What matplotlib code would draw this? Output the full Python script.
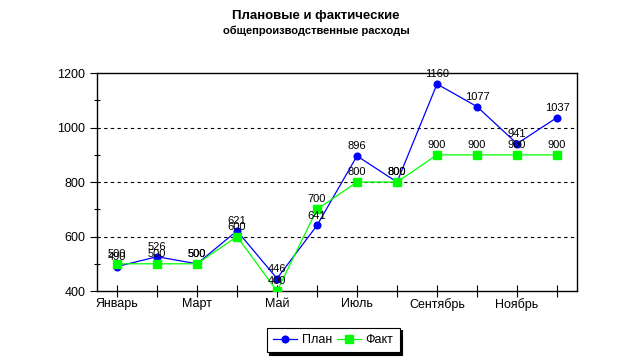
import numpy as np
import matplotlib
matplotlib.use("Agg")
import matplotlib.pyplot as plt
from matplotlib.ticker import MultipleLocator

plt.rcParams['font.family'] = ['Liberation Sans', 'DejaVu Sans']

## data
months = ["Январь", "Февраль", "Март", "Апрель", "Май", "Июнь",
          "Июль", "Август", "Сентябрь", "Октябрь", "Ноябрь", "Декабрь"]
plan = [490, 526, 500, 621, 446, 641, 896, 800, 1160, 1077, 941, 1037]
fact = [500, 500, 500, 600, 400, 700, 800, 800, 900, 900, 900, 900]

BLUE = "#0000ff"
GREEN = "#00ff00"

fig = plt.figure(figsize=(6.32, 3.62), dpi=100)
ax = fig.add_axes([0.1535, 0.196, 0.7595, 0.602])

x = np.arange(len(months))
ax.plot(x, plan, color=BLUE, linewidth=0.9, marker='o', markersize=4.8,
        markeredgecolor=BLUE, markerfacecolor=BLUE, label="План", zorder=3)
ax.plot(x, fact, color=GREEN, linewidth=0.9, marker='s', markersize=5.5,
        markeredgecolor=GREEN, markerfacecolor=GREEN, label="Факт", zorder=4)

# value labels above points
for xi, v in zip(x, plan):
    ax.annotate(str(v), (xi, v), xytext=(0, 3.5), textcoords='offset points',
                ha='center', va='bottom', fontsize=8, zorder=5)
for xi, v in zip(x, fact):
    ax.annotate(str(v), (xi, v), xytext=(0, 3.5), textcoords='offset points',
                ha='center', va='bottom', fontsize=8, zorder=5)

ax.set_xlim(-0.5, 11.5)
ax.set_ylim(400, 1200)
ax.set_xticks(x)
ax.set_xticklabels([m if i % 2 == 0 else "" for i, m in enumerate(months)], fontsize=9)
ax.yaxis.set_major_locator(MultipleLocator(200))
ax.yaxis.set_minor_locator(MultipleLocator(100))
ax.tick_params(axis='y', which='major', direction='out', length=5, labelsize=9, width=0.8)
ax.tick_params(axis='y', which='minor', direction='inout', length=5, width=0.8)
ax.tick_params(axis='x', which='major', direction='inout', length=8, labelsize=9, width=0.8, pad=1)

for y in (600, 800, 1000):
    ax.axhline(y, color='black', linestyle=(0, (3, 3)), linewidth=0.8, zorder=1)

for s in ax.spines.values():
    s.set_linewidth(1.0)
    s.set_color('black')

fig.text(0.5, 0.957, "Плановые и фактические", ha='center', va='center',
         fontsize=9.5, fontweight='bold')
fig.text(0.5, 0.915, "общепроизводственные расходы", ha='center', va='center',
         fontsize=8, fontweight='bold')

leg = fig.legend(loc='center', bbox_to_anchor=(0.527, 0.061), ncol=2,
                 fancybox=False, edgecolor='black', framealpha=1, fontsize=9,
                 handlelength=1.9, columnspacing=0.4, handletextpad=0.4,
                 borderpad=0.5, borderaxespad=0.3,
                 shadow={'color': 'black', 'alpha': 1})
leg.get_frame().set_linewidth(0.8)

fig.savefig("out.png", dpi=100)
